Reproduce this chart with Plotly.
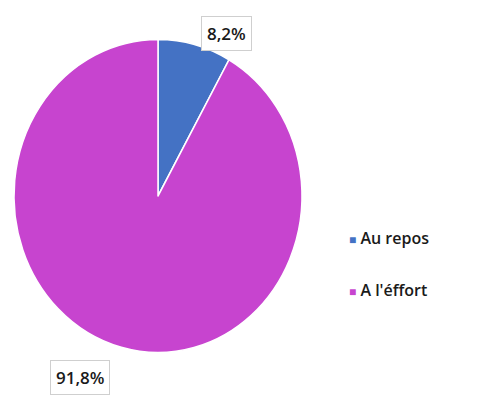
import plotly.graph_objects as go

labels = ["Au repos", "A l'éffort"]
values = [8.2, 91.8]
colors = ["#4472C4", "#C744CF"]
value_text = ["8,2%", "91,8%"]

W, H = 488, 396
CX, CY, R = 158, 196, 144   # pie centre and horizontal radius, px
STRETCH = 1.087             # vertical stretch of the pie

fig = go.Figure()
fig.add_trace(go.Pie(
    labels=labels,
    values=values,
    sort=False,
    direction="clockwise",
    rotation=0,
    marker=dict(colors=colors, line=dict(color="white", width=1.5)),
    textinfo="none",
    hoverinfo="label+percent",
    showlegend=False,
    domain=dict(x=[(CX - R) / W, (CX + R) / W],
                y=[1 - (CY + R) / H, 1 - (CY - R) / H]),
))

# Data labels in boxed callouts outside the slices
label_pos = [(226, 33), (80, 377)]
for txt, (px, py) in zip(value_text, label_pos):
    fig.add_annotation(
        x=px / W, y=1 - py / H, xref="paper", yref="paper",
        xanchor="center", yanchor="middle",
        text=txt, showarrow=False,
        font=dict(family="Open Sans", size=17, color="#1a1a1a", weight=600),
        bordercolor="#cfcfcf", borderwidth=1, borderpad=5, bgcolor="white",
    )

# Legend entries
legend_y = [238, 290]
for lab, col, ly in zip(labels, colors, legend_y):
    fig.add_annotation(
        x=347 / W, y=1 - ly / H, xref="paper", yref="paper",
        xanchor="left", yanchor="middle", showarrow=False,
        text=f"<span style='color:{col};font-size:12px'>■</span> {lab}",
        font=dict(family="Open Sans", size=16, color="#1a1a1a", weight=600),
    )

fig.update_layout(
    width=W, height=H,
    margin=dict(l=0, r=0, t=0, b=0),
    paper_bgcolor="white",
    plot_bgcolor="white",
)

# Stretch the pie vertically about its centre to give the oval shape
post = (
    "var g=document.querySelector('.pielayer');"
    "if(g){g.style.transformOrigin='%dpx %dpx';"
    "g.style.transform='scale(1,%s)';}" % (CX, CY, STRETCH)
)
fig.write_html("out.html", post_script=post)
